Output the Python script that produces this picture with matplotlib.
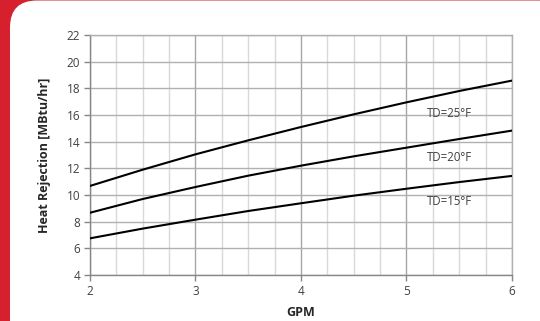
import numpy as np
import matplotlib
matplotlib.use("Agg")
import matplotlib.pyplot as plt
from matplotlib.patches import FancyBboxPatch
from matplotlib.ticker import MultipleLocator

gpm = [2.0, 2.5, 3.0, 3.5, 4.0, 4.5, 5.0, 5.5, 6.0]
td25 = [10.68, 11.9, 13.05, 14.1, 15.1, 16.05, 16.95, 17.8, 18.58]
td20 = [8.67, 9.7, 10.6, 11.45, 12.2, 12.9, 13.55, 14.2, 14.83]
td15 = [6.75, 7.48, 8.15, 8.8, 9.38, 9.95, 10.47, 10.97, 11.43]
labels = ["TD=25°F", "TD=20°F", "TD=15°F"]
label_y = [16.1, 12.85, 9.5]

plt.rcParams['font.family'] = ['Open Sans', 'DejaVu Sans']

fig = plt.figure(figsize=(5.4, 3.21), dpi=100, facecolor="#d6202e")

# white rounded panel over the red background
panel = FancyBboxPatch((0.10, -0.4), 5.56, 3.605,
                       boxstyle="round,pad=0,rounding_size=0.27",
                       transform=fig.dpi_scale_trans,
                       facecolor="white", edgecolor="none", zorder=-10)
fig.patches.append(panel)

ax = fig.add_axes([90 / 540, 46 / 321, 422 / 540, 240 / 321])
ax.set_zorder(5)
ax.set_facecolor("white")

for ys in (td25, td20, td15):
    ax.plot(gpm, ys, color="black", lw=1.5, zorder=3)

for lab, y in zip(labels, label_y):
    ax.text(5.41, y, lab, ha="center", va="center", fontsize=8.3, color="#404040", zorder=4)

ax.set_xlim(2, 6)
ax.set_ylim(4, 22)
ax.xaxis.set_major_locator(MultipleLocator(1))
ax.xaxis.set_minor_locator(MultipleLocator(0.25))
ax.yaxis.set_major_locator(MultipleLocator(2))

ax.grid(which="major", axis="x", color="#a6a6a6", lw=1.0)
ax.grid(which="minor", axis="x", color="#d9d9d9", lw=1.0)
ax.grid(which="major", axis="y", color="#b0b0b0", lw=1.0)
ax.set_axisbelow(True)

for s in ("top", "right"):
    ax.spines[s].set_color("#b0b0b0")
    ax.spines[s].set_linewidth(1.0)
for s in ("left", "bottom"):
    ax.spines[s].set_color("#868686")
    ax.spines[s].set_linewidth(1.0)

ax.tick_params(which="major", length=4, width=1, color="#868686",
               labelsize=8.5, labelcolor="#404040", pad=3)
ax.tick_params(which="minor", length=0)

ax.set_xlabel("GPM", fontsize=9, fontweight="bold", color="#262626", labelpad=6)
ax.set_ylabel("Heat Rejection [MBtu/hr]", fontsize=9, fontweight="bold",
              color="#262626", labelpad=11)

fig.savefig("out.png", dpi=100, facecolor=fig.get_facecolor())
